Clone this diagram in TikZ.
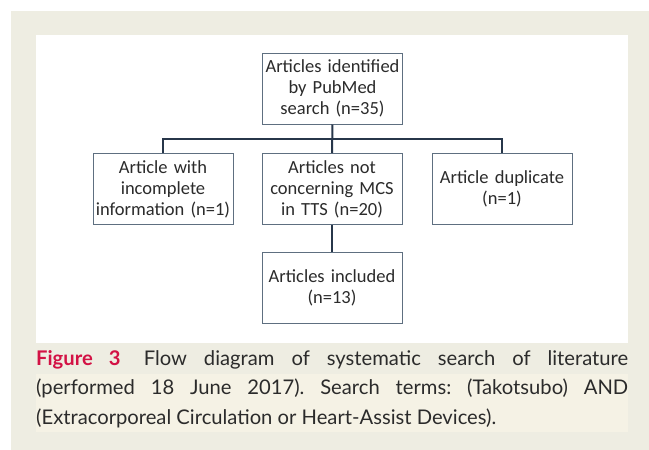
\documentclass[tikz,border=0pt]{standalone}
\usepackage{fontspec}
\setmainfont{Carlito}
\newfontfamily\capfont{Lato}
\usepackage{tikz}

\definecolor{pagebeige}{HTML}{EEEDE2}
\definecolor{capband}{HTML}{F5F2E5}
\definecolor{figred}{HTML}{D31245}
\definecolor{boxline}{HTML}{5E6F80}
\definecolor{linknavy}{HTML}{27364A}
\definecolor{inkgray}{HTML}{2B2B2B}

\tikzset{
    flowbox/.style={rectangle, draw=boxline, line width=1pt, text=inkgray, text width=138pt, inner sep=1pt,
        minimum width=140pt, minimum height=71pt, align=center, font=\fontsize{18.5}{21}\selectfont},
    trunk/.style={draw=linknavy, line width=2pt},
    branch/.style={draw=linknavy, line width=1.3pt}
}

\begin{document}
\begin{tikzpicture}[x=1pt, y=-1pt]
    \useasboundingbox (0,0) rectangle (649,450);
    \fill[white] (0,0) rectangle (649,450);
    \fill[pagebeige] (11,11) rectangle (649,450);
    \fill[white] (36,35) rectangle (628,343);
    \fill[capband] (36,374) rectangle (628,432);

    \node at (332.5,88.5) [flowbox] (Search) {Articles identified\\by PubMed\\search (n=35)};
    \node at (163,189) [flowbox] (Incomplete) {Article with\\incomplete\\information (n=1)};
    \node at (332,189) [flowbox] (NotMCS) {Articles not\\concerning MCS\\in TTS (n=20)};
    \node at (502,189) [flowbox] (Duplicate) {Article duplicate\\(n=1)};
    \node at (332,288) [flowbox] (Included) {Articles included\\(n=13)};
    \coordinate (Split) at (332,139);

    \draw[trunk] (Search) -- (NotMCS);
    \draw[trunk] (NotMCS) -- (Included);
    \draw[branch] (Incomplete.north) |- (Split) -| (Duplicate.north);

    \node at (36,350) [anchor=north west, inner sep=0pt, text width=592pt, align=justify, text=inkgray,
        font=\capfont\fontsize{20.2}{29.5}\selectfont\frenchspacing] (Caption)
        {{\bfseries\color{figred}Figure 3}\hspace{0.3em} Flow diagram of systematic search of literature\linebreak
        (performed 18 June 2017). Search terms: (Takotsubo) AND\linebreak
        (Extracorporeal Circulation or Heart-Assist Devices).};
\end{tikzpicture}
\end{document}
